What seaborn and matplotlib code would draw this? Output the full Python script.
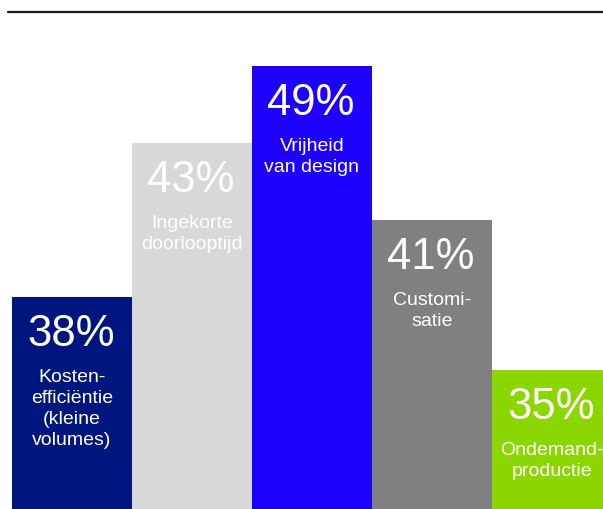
import matplotlib
matplotlib.use("Agg")
import matplotlib.pyplot as plt
from matplotlib.lines import Line2D
import seaborn as sns
import pandas as pd

# Data
categories = ["Kosten-\nefficiëntie\n(kleine\nvolumes)", "Ingekorte\ndoorlooptijd",
              "Vrijheid\nvan design", "Customi-\nsatie", "Ondemand-\nproductie"]
percentages = [38, 43, 49, 41, 35]
# visual bar heights as drawn in the infographic (not proportional to the percentages)
bar_heights = [212, 366, 443, 289, 139]
colors = ["#00167f", "#d8d8d8", "#1e00ff", "#808080", "#8cd600"]

df = pd.DataFrame({"cat": categories, "h": bar_heights, "pct": percentages})

sns.set_style("white")
plt.rcParams["font.family"] = ["Liberation Sans", "DejaVu Sans"]

W, H = 603, 510
fig = plt.figure(figsize=(W / 100, H / 100), dpi=100)
ax = fig.add_axes([12 / W, 0, 600 / W, 1])

sns.barplot(data=df, x="cat", y="h", hue="cat", palette=colors, legend=False,
            width=1.0, saturation=1, ax=ax, linewidth=0)

ax.set_xlim(-0.5, 4.5)
ax.set_ylim(0, H)
ax.axis("off")

for i, (h, p, lab) in enumerate(zip(bar_heights, percentages, categories)):
    ax.annotate(f"{p}%", xy=(i, h), xytext=(-1, -11.5), textcoords="offset points",
                ha="center", va="top", color="white", fontsize=31.5)
    ax.annotate(lab, xy=(i, h), xytext=(0, -51), textcoords="offset points",
                ha="center", va="top", color="white", fontsize=14,
                linespacing=1.3, multialignment="center")

fig.add_artist(Line2D([8 / W, 1], [1 - 12.5 / H, 1 - 12.5 / H],
                      transform=fig.transFigure, color="#1a1a1a", lw=1.6))

fig.savefig("out.png", dpi=100)
